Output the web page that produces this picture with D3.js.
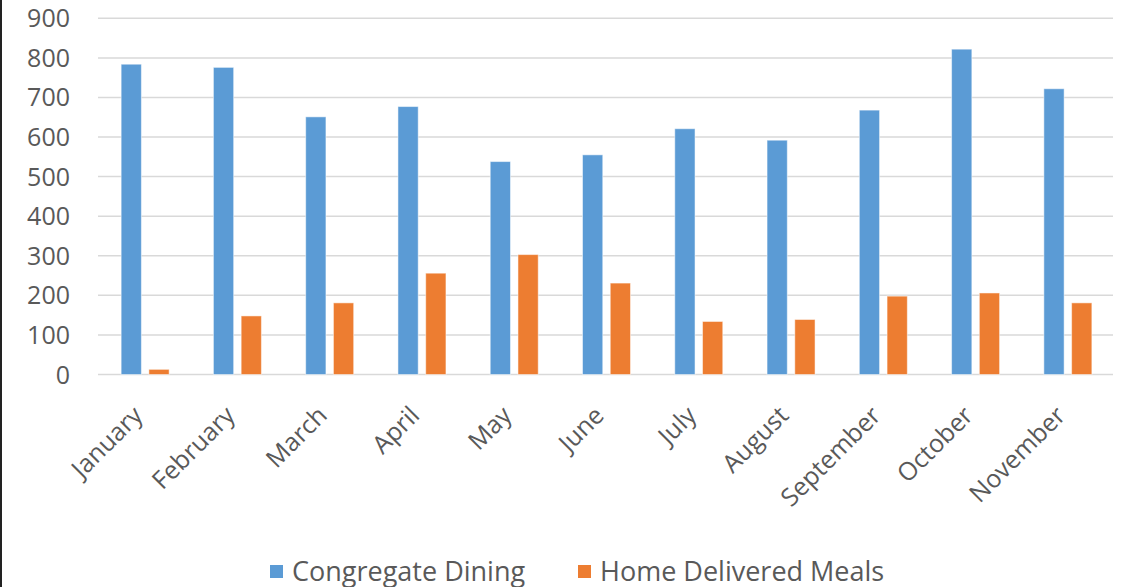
<!DOCTYPE html>
<meta charset="utf-8">
<style>
  body { margin: 0; background: #fff; }
  text { font-family: "Open Sans", sans-serif; fill: #595959; }
</style>
<script src="https://d3js.org/d3.v7.min.js"></script>
<div id="chart"></div>
<script>
// data
var months = ["January", "February", "March", "April", "May", "June",
              "July", "August", "September", "October", "November"];
var congregate = [784, 776, 651, 677, 538, 555, 621, 592, 668, 822, 722];
var homeDelivered = [13, 148, 181, 256, 303, 231, 134, 139, 198, 206, 181];
var seriesNames = ["Congregate Dining", "Home Delivered Meals"];
var seriesColors = ["#5b9bd5", "#ed7d31"];
var yTicks = [0, 100, 200, 300, 400, 500, 600, 700, 800, 900];

var W = 1133, H = 587;
var plotLeft = 98, plotRight = 1113, plotTop = 18.3, plotBottom = 374.5;

var svg = d3.select("#chart").append("svg")
    .attr("width", W).attr("height", H);

// dark edge on the left of the picture
svg.append("rect").attr("x", 0).attr("y", 0).attr("width", 2).attr("height", H).attr("fill", "#222");

var x0 = d3.scaleBand().domain(months).range([plotLeft, plotRight]).padding(0);
var bw = x0.bandwidth();
var x1 = d3.scaleBand().domain([0, 1]).range([bw / 2 - 23, bw / 2 + 25]).paddingInner(0.27);
var y = d3.scaleLinear().domain([0, 900]).range([plotBottom, plotTop]);

// gridlines
svg.append("g").selectAll("line")
  .data(yTicks).enter().append("line")
    .attr("x1", plotLeft).attr("x2", plotRight)
    .attr("y1", function(d) { return y(d); })
    .attr("y2", function(d) { return y(d); })
    .attr("stroke", "#d9d9d9").attr("stroke-width", 1.5);

// y labels
svg.append("g").selectAll("text")
  .data(yTicks).enter().append("text")
    .attr("x", 70)
    .attr("y", function(d) { return y(d); })
    .attr("dy", "0.36em")
    .attr("text-anchor", "end")
    .style("font-size", "25px")
    .text(function(d) { return d; });

// bars
var series = [congregate, homeDelivered];
var groups = svg.append("g").selectAll("g")
  .data(months).enter().append("g")
    .attr("transform", function(d) { return "translate(" + x0(d) + ",0)"; });

groups.selectAll("rect")
  .data(function(d, i) { return series.map(function(s, k) { return {k: k, v: s[i]}; }); })
  .enter().append("rect")
    .attr("x", function(d) { return x1(d.k); })
    .attr("width", x1.bandwidth())
    .attr("y", function(d) { return y(d.v); })
    .attr("height", function(d) { return plotBottom - y(d.v); })
    .attr("fill", function(d) { return seriesColors[d.k]; })
    .attr("stroke", "#fff").attr("stroke-opacity", 0.5).attr("stroke-width", 1);

// month labels, rotated
svg.append("g").selectAll("text")
  .data(months).enter().append("text")
    .attr("text-anchor", "end")
    .attr("transform", function(d) {
      return "translate(" + (x0(d) + bw / 2) + ",417) rotate(-45)";
    })
    .style("font-size", "25px")
    .text(function(d) { return d; });

// legend
var legendX = [270, 578];
var legend = svg.append("g").selectAll("g")
  .data(seriesNames).enter().append("g")
    .attr("transform", function(d, i) { return "translate(" + legendX[i] + ",0)"; });
legend.append("rect")
  .attr("x", 0).attr("y", 565).attr("width", 13).attr("height", 13)
  .attr("fill", function(d, i) { return seriesColors[i]; });
legend.append("text")
  .attr("x", 22).attr("y", 581)
  .style("font-size", "27px")
  .text(function(d) { return d; });
</script>
